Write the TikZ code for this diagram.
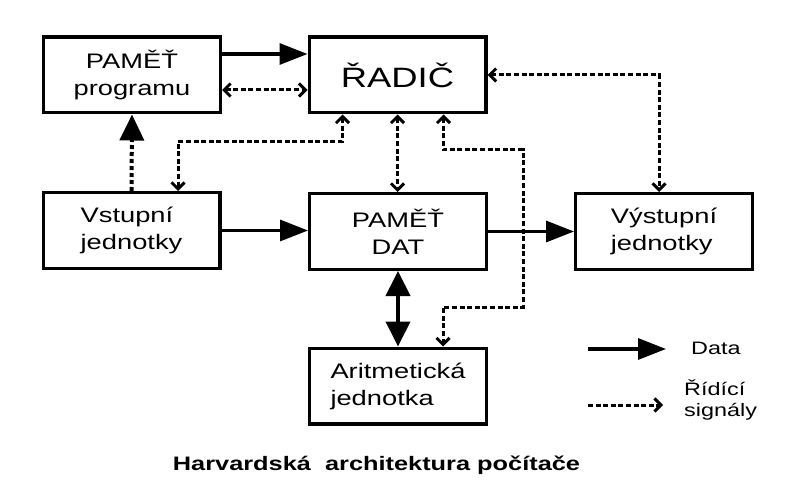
\documentclass[tikz,border=0pt]{standalone}
\usepackage{fontspec}
\setmainfont{Liberation Sans}[FakeStretch=1.3]
\usetikzlibrary{arrows.meta}
\tikzset{
  box/.style={draw, line width=3.3pt, minimum width=176.7pt, minimum height=75.7pt,
    inner sep=0pt, align=center, font=\fontsize{21}{27}\selectfont},
  datarrow/.style={line width=3.2pt, -{Triangle[length=28pt,width=21pt]}},
  sigline/.style={line width=3pt, dash pattern=on 5pt off 2.6pt},
  dotline/.style={line width=4pt, dash pattern=on 4pt off 3pt, -{Triangle[length=26pt,width=24pt]}},
  dblarrow/.style={line width=4pt, {Triangle[length=25pt,width=24pt]}-{Triangle[length=25pt,width=24pt]}},
  legendtext/.style={anchor=west, inner sep=0pt, align=left, font=\fontsize{18}{21}\selectfont},
}
\begin{document}
\begin{tikzpicture}[x=1pt, y=-1pt, >={Straight Barb[length=6.5pt,width=13pt]}]
\useasboundingbox (0,0) rectangle (795,481);
% boxes
\node[box] (prog) at (132,75) {PAMĚŤ\\programu};
\node[box, font=\fontsize{28}{32}\selectfont] (radic) at (397.5,75) {ŘADIČ};
\node[box, align=left] (vstup) at (131.5,230.5) {Vstupní\\jednotky};
\node[box] (dat) at (398,231.5) {PAMĚŤ\\DAT};
\node[box, align=left] (vystup) at (664,231.5) {Výstupní\\jednotky};
\node[box, align=left] (alu) at (398,386) {Aritmetická\\jednotka};
% data connectors
\draw[datarrow] ([yshift=21pt]prog.east) -- ([yshift=21pt]radic.west);
\draw[datarrow] (vstup.east) -- (vstup.east -| dat.west);
\draw[datarrow] (dat.east) -- (vystup.west);
\draw[dotline] (vstup.north) -- (prog.south);
\draw[dblarrow] (dat.south) -- (alu.north);
% signal connectors
\draw[sigline, <->] ([yshift=-15pt]prog.east) -- ([yshift=-15pt]radic.west);
\draw[sigline, <->] ([xshift=-55pt]radic.south) -- ++(0,27) -| ([xshift=46.5pt]vstup.north);
\draw[sigline, <->] (radic.south) -- (radic.south |- dat.north);
\coordinate (k1) at (523,150);
\coordinate (k2) at (523,307);
\draw[sigline, <->] ([xshift=46pt]radic.south) |- (k1) -- (k2) -| ([xshift=45pt]alu.north);
\draw[sigline, <->] (radic.east) -| ([xshift=-5pt]vystup.north);
% legend
\coordinate (l1) at (588,349);
\coordinate (l2) at (666,349);
\coordinate (l3) at (588,405);
\coordinate (l4) at (663,405);
\draw[datarrow] (l1) -- (l2);
\draw[sigline, ->] (l3) -- (l4);
\node[legendtext] (ldata) at (691,348) {Data};
\node[legendtext] (lsig) at (684,400) {Řídící\\signály};
% caption
\node[font=\bfseries\fontsize{19.5}{22}\selectfont] (cap) at (376.5,465) {Harvardská\ \ architektura počítače};
\end{tikzpicture}
\end{document}
